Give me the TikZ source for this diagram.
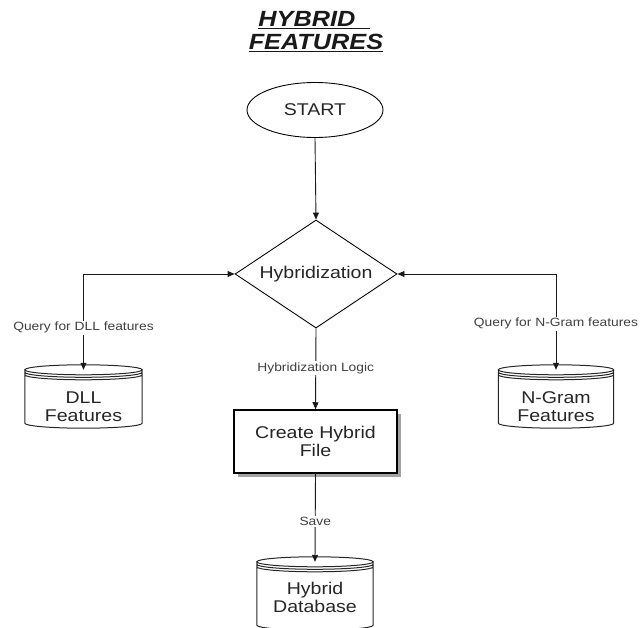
\documentclass[tikz,border=0pt]{standalone}
\usepackage{fontspec}
\setmainfont[FakeStretch=1.15]{Liberation Sans}
\usetikzlibrary{shapes.geometric,arrows.meta,shadows,calc}

\tikzset{
  conn/.style={draw=black!90, line width=0.9pt},
  tipend/.style={-{Triangle[length=7pt,width=6pt]}},
  tipboth/.style={{Triangle[length=7pt,width=6pt]}-{Triangle[length=7pt,width=6pt]}},
  lab/.style={fill=white, inner sep=1.5pt, font=\fontsize{12}{12}\selectfont, text=black!75},
  main/.style={font=\fontsize{17}{18}\selectfont, text=black!85, align=center},
  titletext/.style={font=\fontsize{22}{24}\selectfont\bfseries\itshape, text=black!90, inner sep=0pt},
  cylnode/.style={inner sep=0pt, minimum width=#1},
  cyltext/.style={font=\fontsize{17}{18}\selectfont, text=black!85, align=center},
  cylline/.style={draw=black!85, line width=1pt}
}

\newcommand\cylout[1]{%
  \draw[cylline] let \p1=(#1.north west), \p2=(#1.south east),
    \n1={(\x2-\x1)/2}, \n2={(\x1+\x2)/2} in
    (\n2,\y1-5pt) ellipse [x radius=\n1, y radius=5pt]
    (\x1,\y1-5pt) -- (\x1,\y2+5pt)
      arc[start angle=180, end angle=360, x radius=\n1, y radius=5pt]
      -- (\x2,\y1-5pt)
    (\x1,\y1-7.5pt) arc[start angle=180, end angle=360, x radius=\n1, y radius=5pt]
    (\x1,\y1-10pt) arc[start angle=180, end angle=360, x radius=\n1, y radius=5pt];
}

\begin{document}
\begin{tikzpicture}[x=1pt,y=1pt]
\useasboundingbox (0,0) rectangle (640,627);

% title
\node[titletext, anchor=base] (t1) at (314,600) {\underline{HYBRID\ \ }};
\node[titletext, anchor=base] (t2) at (316,577) {\underline{FEATURES}};

% main nodes
\node[ellipse, draw, line width=0.9pt, minimum width=136pt, minimum height=55pt,
      inner sep=0pt, main] (start) at (315,517) {START};
\node[diamond, draw, line width=0.9pt, aspect=1.5, inner sep=0pt,
      minimum width=162pt, minimum height=108pt, main] (dia) at (316,353) {Hybridization};
\node[draw, line width=1.5pt, minimum width=163pt, minimum height=63pt, main, fill=white,
      drop shadow={shadow xshift=4pt, shadow yshift=-4pt, fill=black!45, opacity=0.8}]
      (box) at (315.5,185.5) {Create Hybrid\\File};

% cylinders
\node[cylnode=117pt, minimum height=63pt,
      label={[cyltext, yshift=-10pt]center:DLL\\Features}] (dll) at (83.5,230.5) {};
\node[cylnode=115pt, minimum height=63pt,
      label={[cyltext, yshift=-10pt]center:N-Gram\\Features}] (ng) at (556,230.5) {};
\node[cylnode=116pt, minimum height=73pt,
      label={[cyltext, yshift=-3.5pt]center:Hybrid\\Database}] (db) at (315,33.5) {};
\cylout{dll}
\cylout{ng}
\cylout{db}

% connectors
\draw[conn, tipend] (start.south) -- (dia.north);
\draw[conn, tipboth] ([yshift=-5pt]dll.north) |- node[lab, pos=0.22] {Query for DLL features} (dia.west);
\draw[conn, tipboth] ([yshift=-5pt]ng.north) |- node[lab, pos=0.24] {Query for N-Gram features} (dia.east);
\draw[conn, tipend] (dia.south) -- node[lab, pos=0.49] {Hybridization Logic} (box.north);
\draw[conn, tipend] (box.south) -- node[lab, pos=0.54] {Save} ([yshift=-5pt]db.north);
\end{tikzpicture}
\end{document}
